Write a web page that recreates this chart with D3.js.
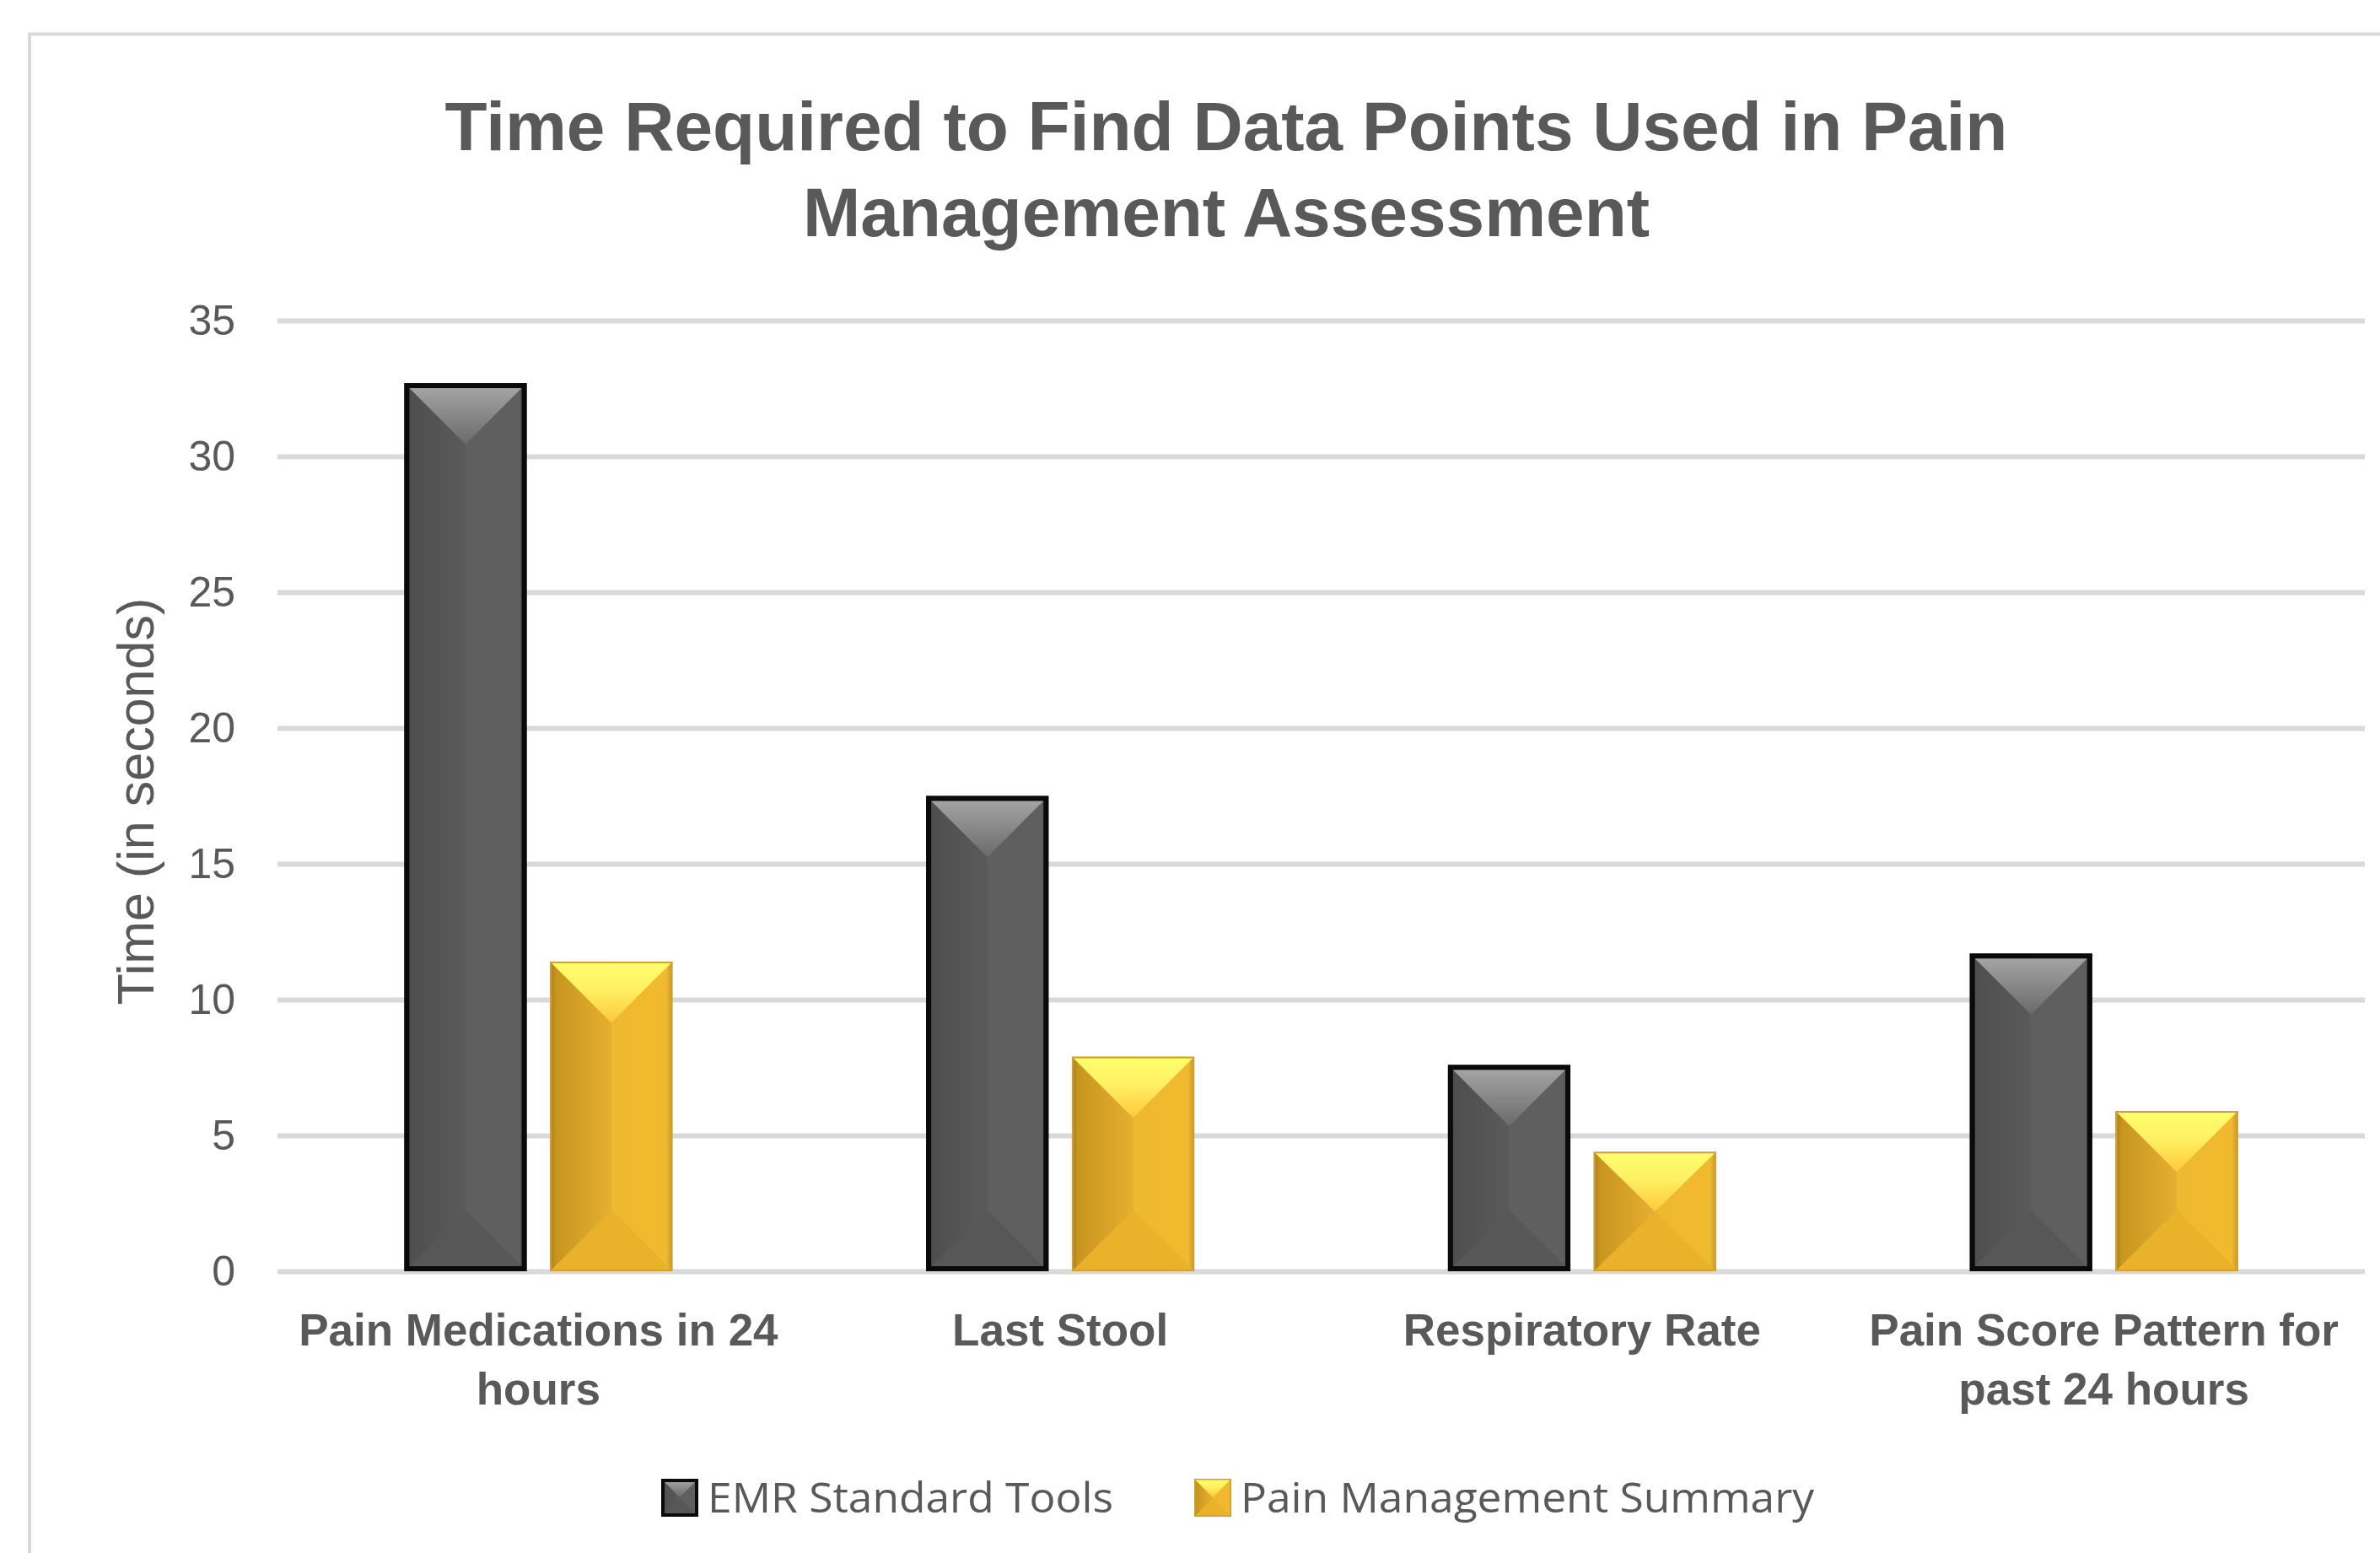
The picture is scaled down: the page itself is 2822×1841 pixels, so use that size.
<!DOCTYPE html>
<html>
<head>
<meta charset="utf-8">
<script src="https://cdn.jsdelivr.net/npm/d3@7"></script>
<style>
  body { margin: 0; background: #fff; }
  svg { display: block; }
</style>
</head>
<body>
<script>
// chart data
var titleLines = ["Time Required to Find Data Points Used in Pain", "Management Assessment"];
var categories = ["Pain Medications in 24\nhours", "Last Stool", "Respiratory Rate", "Pain Score Pattern for\npast 24 hours"];
var seriesNames = ["EMR Standard Tools", "Pain Management Summary"];
var emrValues = [32.7, 17.5, 7.6, 11.7];
var pmsValues = [11.4, 7.9, 4.4, 5.9];
var yTicks = [0, 5, 10, 15, 20, 25, 30, 35];
var yTitle = "Time (in seconds)";

;(function() {
    var W = 2822, H = 1841;
    var textColor = '#595959';
    var gridColor = '#d9d9d9';
    var plot = { left: 329, right: 2804, top: 380, bottom: 1507 };

    // bevelled bar look for each series (dark / gold)
    var barStyles = [
        {
            body: [[0, '#3e3e3e'], [0.06, '#4f4f4f'], [0.5, '#5a5a5a'], [0.5, '#5f5f5f'], [0.94, '#5f5f5f'], [1, '#404040']],
            top: [[0, '#a9a9a9'], [1, '#6a6a6a']],
            bottom: '#575757',
            stroke: '#0a0a0a',
            strokeWidth: 6
        },
        {
            body: [[0, '#a87c18'], [0.05, '#c8961f'], [0.5, '#e5af30'], [0.5, '#efb92f'], [0.95, '#f0b92e'], [1, '#c49529']],
            top: [[0, '#ffff6e'], [0.45, '#fff064'], [1, '#ffc83a']],
            bottom: '#e9b22a',
            stroke: '#cfa038',
            strokeWidth: 2
        }
    ];

    var svg = d3.select('body').append('svg')
        .attr('width', W)
        .attr('height', H)
        .style('font-family', '"Liberation Sans", Arial, sans-serif');

    var defs = svg.append('defs');
    barStyles.forEach(function(st, i) {
        var gb = defs.append('linearGradient').attr('id', 'body' + i)
            .attr('x1', 0).attr('y1', 0).attr('x2', 1).attr('y2', 0);
        st.body.forEach(function(s) {
            gb.append('stop').attr('offset', s[0]).attr('stop-color', s[1]);
        });
        var gt = defs.append('linearGradient').attr('id', 'top' + i)
            .attr('x1', 0).attr('y1', 0).attr('x2', 0).attr('y2', 1);
        st.top.forEach(function(s) {
            gt.append('stop').attr('offset', s[0]).attr('stop-color', s[1]);
        });
    });

    // chart area frame
    svg.append('rect')
        .attr('x', 35).attr('y', 40.5)
        .attr('width', W).attr('height', H)
        .attr('fill', 'none')
        .attr('stroke', gridColor)
        .attr('stroke-width', 4);

    // title
    svg.append('g').selectAll('text')
        .data(titleLines)
        .enter().append('text')
        .attr('x', 1454)
        .attr('y', function(d, i) { return 178 + i * 102; })
        .attr('text-anchor', 'middle')
        .attr('fill', textColor)
        .style('font-size', '82px')
        .style('font-weight', 'bold')
        .text(function(d) { return d; });

    var x0 = d3.scaleBand()
        .domain(categories)
        .range([plot.left, plot.right])
        .paddingInner(0.486)
        .paddingOuter(0.243);

    var x1 = d3.scaleBand()
        .domain(d3.range(seriesNames.length))
        .range([0, x0.bandwidth()])
        .paddingInner(0.16);

    var y = d3.scaleLinear()
        .domain([0, 35])
        .range([plot.bottom, plot.top]);

    // y axis with full-width gridlines
    var yAxis = d3.axisLeft(y)
        .tickValues(yTicks)
        .tickSizeInner(-(plot.right - plot.left))
        .tickSizeOuter(0)
        .tickPadding(50);

    var gy = svg.append('g')
        .attr('transform', 'translate(' + plot.left + ',0)')
        .call(yAxis);
    gy.select('.domain').remove();
    gy.selectAll('.tick line')
        .attr('stroke', gridColor)
        .attr('stroke-width', 6);
    gy.selectAll('.tick text')
        .attr('fill', textColor)
        .style('font-family', '"Liberation Sans", Arial, sans-serif')
        .style('font-size', '50px');

    svg.append('text')
        .attr('transform', 'translate(182,950) rotate(-90)')
        .attr('text-anchor', 'middle')
        .attr('fill', textColor)
        .style('font-size', '61px')
        .text(yTitle);

    function drawBevel(g, x, yTop, w, h, st, i) {
        var d = Math.min(w / 2, h / 2);
        var sw = st.strokeWidth;
        g.append('rect')
            .attr('x', x).attr('y', yTop)
            .attr('width', w).attr('height', h)
            .attr('fill', 'url(#body' + i + ')');
        g.append('polygon')
            .attr('points', [[x, yTop], [x + w, yTop], [x + w / 2, yTop + d]].join(' '))
            .attr('fill', 'url(#top' + i + ')');
        g.append('polygon')
            .attr('points', [[x, yTop + h], [x + w, yTop + h], [x + w / 2, yTop + h - d]].join(' '))
            .attr('fill', st.bottom);
        g.append('rect')
            .attr('x', x + sw / 2).attr('y', yTop + sw / 2)
            .attr('width', w - sw).attr('height', h - sw)
            .attr('fill', 'none')
            .attr('stroke', st.stroke)
            .attr('stroke-width', sw);
    }

    // bars
    var series = [emrValues, pmsValues];
    var gBars = svg.append('g');
    categories.forEach(function(cat, c) {
        series.forEach(function(vals, s) {
            var bx = x0(cat) + x1(s);
            var top = y(vals[c]);
            drawBevel(gBars.append('g'), bx, top, x1.bandwidth(), y(0) - top, barStyles[s], s);
        });
    });

    // category labels
    var gx = svg.append('g');
    categories.forEach(function(cat) {
        var t = gx.append('text')
            .attr('x', x0(cat) + x0.bandwidth() / 2)
            .attr('y', 1595)
            .attr('text-anchor', 'middle')
            .attr('fill', textColor)
            .style('font-size', '53px')
            .style('font-weight', 'bold');
        cat.split('\n').forEach(function(line, i) {
            t.append('tspan')
                .attr('x', x0(cat) + x0.bandwidth() / 2)
                .attr('dy', i === 0 ? 0 : 70)
                .text(line);
        });
    });

    // legend
    var legendX = [784, 1416];
    var legendLen = [481, 680];
    var gl = svg.append('g');
    seriesNames.forEach(function(name, i) {
        var st = Object.assign({}, barStyles[i], { strokeWidth: i === 0 ? 4 : 1.5 });
        drawBevel(gl.append('g'), legendX[i], 1753, 44, 45, st, i);
        gl.append('text')
            .attr('x', legendX[i] + 55)
            .attr('y', 1793)
            .attr('fill', textColor)
            .attr('textLength', legendLen[i])
            .attr('lengthAdjust', 'spacingAndGlyphs')
            .style('font-family', '"Open Sans", "Noto Sans", sans-serif')
            .style('font-size', '50px')
            .text(name);
    });
})();
</script>
</body>
</html>
